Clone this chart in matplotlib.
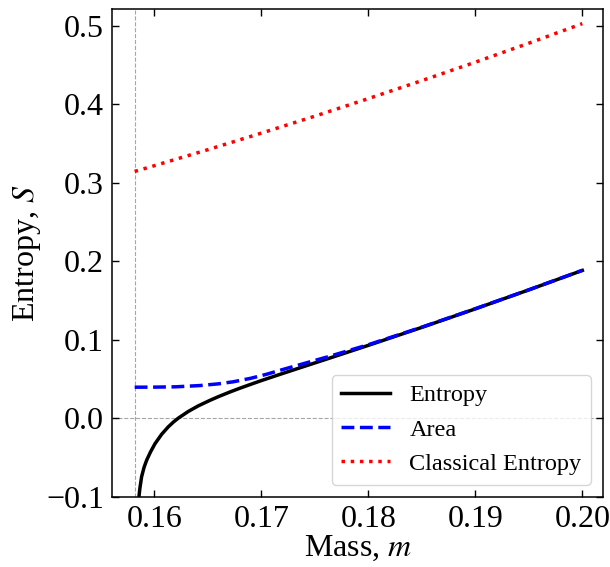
import matplotlib
matplotlib.use("Agg")
import matplotlib.pyplot as plt

plt.rcParams['font.family'] = ['Liberation Serif', 'DejaVu Serif']
plt.rcParams['mathtext.fontset'] = 'stix'

# Critical mass (vertical reference line)
m_crit = 0.15817

# Entropy (solid black)
m_entropy = [0.15850, 0.15857, 0.15866, 0.15882, 0.15905, 0.15929, 0.15965, 0.16007,
             0.16069, 0.16131, 0.16180, 0.16224, 0.16318, 0.16411, 0.16521, 0.16600,
             0.16707, 0.16800, 0.16894, 0.17000, 0.17081, 0.17200, 0.17361, 0.17500,
             0.17626, 0.17800, 0.18000, 0.18500, 0.19000, 0.19500, 0.20000]
S_entropy = [-0.1110, -0.1000, -0.0890, -0.0745, -0.0625, -0.0535, -0.0430, -0.0325,
             -0.0205, -0.0110, -0.0048, 0.0000, 0.0086, 0.0157, 0.0228, 0.0275,
             0.0334, 0.0382, 0.0428, 0.0479, 0.0516, 0.0570, 0.0642, 0.0704,
             0.0760, 0.0838, 0.0928, 0.1157, 0.1393, 0.1635, 0.1883]

# Area (dashed blue)
m_area = [0.15817, 0.16000, 0.16200, 0.16427, 0.16600, 0.16738, 0.16900, 0.17050,
          0.17200, 0.17361, 0.17626, 0.18000, 0.18500, 0.19000, 0.19500, 0.20000]
S_area = [0.0395, 0.0396, 0.0400, 0.0416, 0.0438, 0.0464, 0.0508, 0.0560,
          0.0620, 0.0682, 0.0784, 0.0936, 0.1160, 0.1395, 0.1636, 0.1884]

# Classical entropy (dotted red)
m_classical = [0.15817, 0.16000, 0.16500, 0.17000, 0.17500, 0.18000, 0.18500,
               0.19000, 0.19500, 0.20000]
S_classical = [0.3144, 0.3217, 0.3421, 0.3632, 0.3848, 0.4072, 0.4301,
               0.4536, 0.4778, 0.5027]

fig = plt.figure(figsize=(6.1, 5.67), dpi=100)
ax = fig.add_axes([0.1841, 0.124, 0.989 - 0.1841, 0.9836 - 0.124])

ax.axvline(m_crit, color='0.65', lw=0.8, ls='--', zorder=1)
ax.axhline(0.0, color='0.65', lw=0.8, ls='--', zorder=1)

ax.plot(m_entropy, S_entropy, color='black', lw=2.5, ls='-', label='Entropy', zorder=3)
ax.plot(m_area, S_area, color='blue', lw=2.5, ls='--', label='Area', zorder=4)
ax.plot(m_classical, S_classical, color='red', lw=2.5, ls=':', label='Classical Entropy', zorder=3)

ax.set_xlim(0.15608, 0.20196)
ax.set_ylim(-0.1, 0.521)
ax.set_xticks([0.16, 0.17, 0.18, 0.19, 0.20])
ax.set_xticklabels(['0.16', '0.17', '0.18', '0.19', '0.20'])
ax.set_yticks([-0.1, 0.0, 0.1, 0.2, 0.3, 0.4, 0.5])
ax.set_yticklabels(['\u22120.1', '0.0', '0.1', '0.2', '0.3', '0.4', '0.5'])

ax.tick_params(direction='in', top=True, right=True, length=5, width=1.0,
               labelsize=23, pad=6)
for sp in ax.spines.values():
    sp.set_linewidth(1.1)

ax.set_xlabel('Mass, $m$', fontsize=23, labelpad=0)
ax.set_ylabel('Entropy, $S$', fontsize=23, labelpad=2)

ax.legend(loc='lower right', fontsize=17.5, borderaxespad=0.5)

fig.savefig('out.png', dpi=100)
